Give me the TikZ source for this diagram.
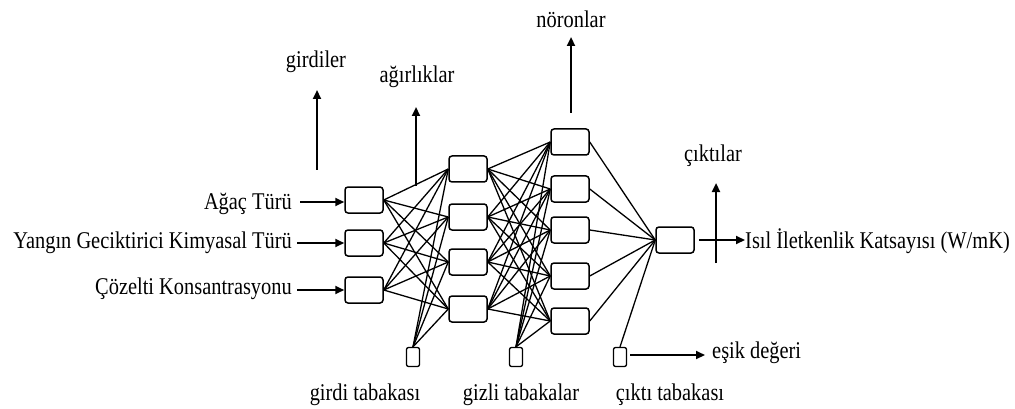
\documentclass[tikz,border=0pt]{standalone}
\usepackage{fontspec}
\setmainfont{Liberation Serif}[FakeStretch=0.85]
\usetikzlibrary{arrows.meta}
\begin{document}
\begin{tikzpicture}[x=1pt,y=-1pt,
  neuron/.style={draw, line width=1.5pt, rounded corners=3pt, minimum width=38pt, minimum height=26pt, inner sep=0pt},
  bias/.style={draw, line width=1.3pt, rounded corners=2pt, minimum width=13pt, minimum height=19pt, inner sep=0pt},
  conn/.style={line width=1.3pt},
  arr/.style={line width=2.2pt, -{Triangle[length=9pt,width=8pt]}},
  lbl/.style={font=\fontsize{24}{28}\selectfont, inner sep=0pt}]
\useasboundingbox (0,0) rectangle (1015,409);

% input layer
\node[neuron] (i1) at (364,200) {};
\node[neuron] (i2) at (364,243) {};
\node[neuron] (i3) at (364,290) {};
% hidden layer 1
\node[neuron] (h1) at (468,169) {};
\node[neuron] (h2) at (468,217) {};
\node[neuron] (h3) at (468,262) {};
\node[neuron] (h4) at (468,309) {};
% hidden layer 2
\node[neuron] (g1) at (570,142) {};
\node[neuron] (g2) at (570,189) {};
\node[neuron] (g3) at (570,230) {};
\node[neuron] (g4) at (570,276) {};
\node[neuron] (g5) at (570,321) {};
% output
\node[neuron] (o) at (675,240) {};
% bias
\node[bias] (b1) at (413,357) {};
\node[bias] (b2) at (516,357) {};
\node[bias] (b3) at (620,357) {};

% connections
\foreach \i in {i1,i2,i3}
  \foreach \h in {h1,h2,h3,h4}
    \draw[conn] (\i.east) -- (\h.west);
\foreach \h in {h1,h2,h3,h4}
  \draw[conn] (b1.north) -- (\h.west);
\foreach \h in {h1,h2,h3,h4}
  \foreach \g in {g1,g2,g3,g4,g5}
    \draw[conn] (\h.east) -- (\g.west);
\foreach \g in {g1,g2,g3,g4,g5}
  \draw[conn] (b2.north) -- (\g.west);
\foreach \g in {g1,g2,g3,g4,g5}
  \draw[conn] (\g.east) -- (o.west);
\draw[conn] (b3.north) -- (o.west);

% left labels
\node[lbl, anchor=base east] (t1) at (292,209) {Ağaç Türü};
\node[lbl, anchor=base east] (t2) at (292,248) {Yangın Geciktirici Kimyasal Türü};
\node[lbl, anchor=base east] (t3) at (292,294) {Çözelti Konsantrasyonu};
\coordinate (s1) at (300,202);
\coordinate (s2) at (297,243);
\coordinate (s3) at (297,290);
\draw[arr] (s1) -- (i1.west |- s1);
\draw[arr] (s2) -- (i2.west |- s2);
\draw[arr] (s3) -- (i3.west |- s3);

% top labels
\node[lbl, anchor=base] (girdiler) at (316,68) {girdiler};
\coordinate (gA) at (317,170);
\coordinate (gB) at (317,90);
\draw[arr] (gA) -- (gB);

\node[lbl, anchor=base] (agir) at (417,83) {ağırlıklar};
\coordinate (wA) at (416,186);
\coordinate (wB) at (416,107);
\draw[arr] (wA) -- (wB);

\node[lbl, anchor=base] (noron) at (571,28) {nöronlar};
\coordinate (nA) at (571,113);
\coordinate (nB) at (571,37);
\draw[arr] (nA) -- (nB);

\node[lbl, anchor=base] (cikti) at (713,162) {çıktılar};
\coordinate (cA) at (716,263);
\coordinate (cB) at (716,183);
\draw[arr] (cA) -- (cB);

% output label
\node[lbl, anchor=base west] (isil) at (745,248) {Isıl İletkenlik Katsayısı (W/mK)};
\coordinate (oA) at (699,240);
\draw[arr] (oA) -- (isil.west |- oA);

% threshold
\node[lbl, anchor=base west] (esik) at (712,358) {eşik değeri};
\coordinate (eA) at (630,355);
\coordinate (eB) at (705,355);
\draw[arr] (eA) -- (eB);

% bottom labels
\node[lbl, anchor=base] (L1) at (365,400) {girdi tabakası};
\node[lbl, anchor=base] (L2) at (521,400) {gizli tabakalar};
\node[lbl, anchor=base] (L3) at (670,400) {çıktı tabakası};
\end{tikzpicture}
\end{document}
